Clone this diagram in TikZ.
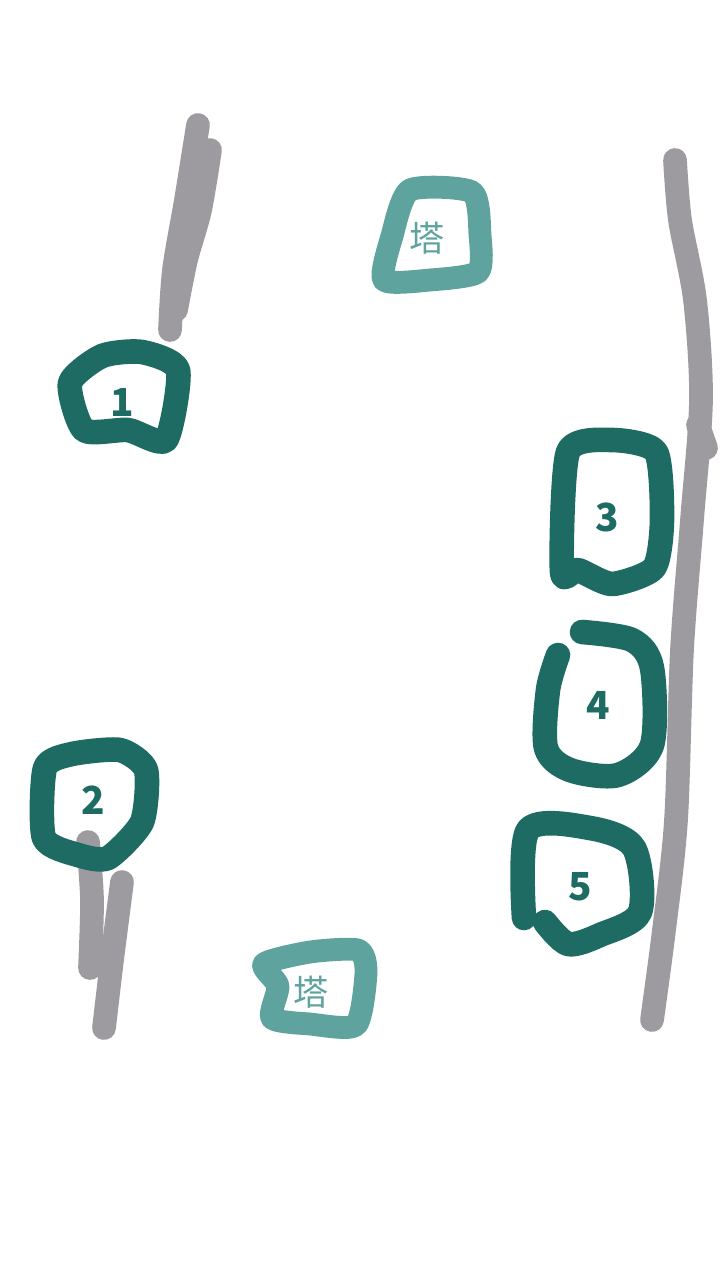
\documentclass[tikz,border=0pt]{standalone}
\usepackage{fontspec}
\usepackage{xcolor}
\usepackage{tikz}
\usetikzlibrary{positioning,calc}
\newfontfamily\cjk{Noto Sans CJK SC}
\definecolor{tealdark}{HTML}{1E6B64}
\definecolor{teallight}{HTML}{5FA39E}
\definecolor{roadgray}{HTML}{9D9B9F}

\tikzset{
    spotbox/.style={draw=tealdark, line width=14pt, line cap=round, line join=round},
    towerbox/.style={draw=teallight, line width=13pt, line cap=round, line join=round},
    roadline/.style={draw=roadgray, line width=13.5pt, line cap=round, line join=round},
    spotlabel/.style={text=tealdark, font=\cjk\bfseries\fontsize{22}{24}\selectfont},
    towerlabel/.style={text=teallight, font=\cjk\fontsize{20}{22}\selectfont}
}

\begin{document}
\begin{tikzpicture}[x=0.02cm, y=-0.02cm]
    \useasboundingbox (0,0) rectangle (720,1280);

    % grey strokes
    \draw[roadline] plot[smooth] coordinates {(198,125) (186,200) (174,270) (170,330)};
    \draw[roadline] plot[smooth] coordinates {(210,150) (200,210) (186,260) (176,310)};
    \draw[roadline] plot[smooth] coordinates {(675,160) (680,220) (695,300) (701,400) (692,520) (682,650) (676,820) (664,930) (652,1020)};
    \draw[roadline] (698,425) -- (706,448);
    \draw[roadline] plot[smooth] coordinates {(88,842) (92,900) (90,968)};
    \draw[roadline] plot[smooth] coordinates {(122,882) (112,960) (104,1028)};

    % towers
    \draw[towerbox] plot[smooth cycle, tension=0.4] coordinates {(410,190) (472,192) (480,235) (478,272) (430,280) (384,280) (392,236)};
    \node[towerlabel] (tower1) at (427,238) {塔};
    \draw[towerbox] plot[smooth cycle, tension=0.4] coordinates {(264,964) (310,952) (358,950) (366,972) (356,1025) (310,1024) (272,1018) (278,986)};
    \node[towerlabel] (tower2) at (311,992) {塔};

    % numbered spots
    \draw[spotbox] plot[smooth cycle, tension=0.4] coordinates {(70,383) (102,356) (142,352) (178,370) (166,440) (128,430) (84,430)};
    \node[spotlabel] (spot1) at (122,402) {1};
    \draw[spotbox] plot[smooth cycle, tension=0.4] coordinates {(45,768) (72,754) (120,750) (146,770) (142,822) (108,858) (78,855) (44,838)};
    \node[spotlabel] (spot2) at (93,800) {2};
    \draw[spotbox] plot[smooth cycle, tension=0.4] coordinates {(568,452) (612,440) (656,452) (662,520) (654,568) (612,584) (578,570) (562,572)};
    \node[spotlabel] (spot3) at (607,517) {3};
    \draw[spotbox] plot[smooth, tension=0.5] coordinates {(582,632) (632,640) (652,668) (652,745) (618,775) (570,770) (546,748) (548,690) (558,655)};
    \node[spotlabel] (spot4) at (598,705) {4};
    \draw[spotbox] plot[smooth, tension=0.5] coordinates {(524,918) (528,830) (590,828) (634,848) (640,912) (600,935) (568,944) (545,922)};
    \node[spotlabel] (spot5) at (580,887) {5};
\end{tikzpicture}
\end{document}
